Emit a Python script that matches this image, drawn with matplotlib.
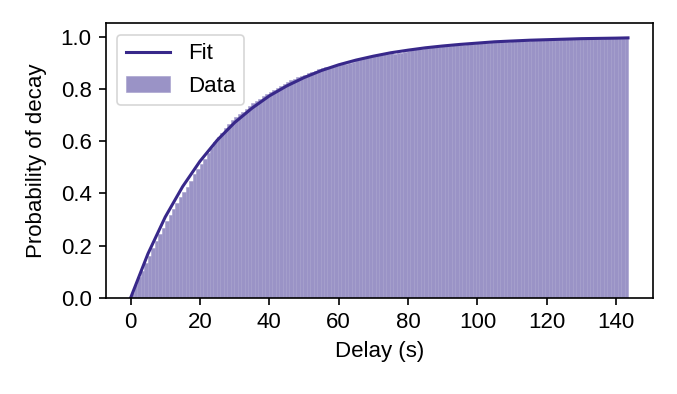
import numpy as np
import matplotlib
matplotlib.use("Agg")
import matplotlib.pyplot as plt

# --- data ---
# cumulative fraction of decays at the right edge of each ~1 s bin
delay_min = 0.0
delay_max = 143.4
cum_fraction = [
    0.018, 0.050, 0.082, 0.103, 0.133, 0.162, 0.191, 0.218, 0.243, 0.268,
    0.293, 0.317, 0.340, 0.363, 0.385, 0.406, 0.426, 0.447, 0.476, 0.495,
    0.513, 0.530, 0.553, 0.574, 0.597, 0.614, 0.632, 0.649, 0.666, 0.679,
    0.691, 0.702, 0.713, 0.724, 0.734, 0.744, 0.754, 0.763, 0.772, 0.781,
    0.789, 0.797, 0.804, 0.812, 0.819, 0.826, 0.833, 0.839, 0.845, 0.850,
    0.854, 0.859, 0.864, 0.870, 0.875, 0.878, 0.882, 0.883, 0.887, 0.891,
    0.894, 0.895, 0.895, 0.898, 0.903, 0.909, 0.914, 0.917, 0.920, 0.923,
    0.926, 0.928, 0.931, 0.933, 0.935, 0.936, 0.935, 0.936, 0.938, 0.942,
    0.946, 0.949, 0.951, 0.952, 0.954, 0.956, 0.957, 0.959, 0.960, 0.961,
    0.963, 0.964, 0.965, 0.966, 0.967, 0.968, 0.969, 0.970, 0.971, 0.972,
    0.974, 0.975, 0.976, 0.977, 0.978, 0.978, 0.979, 0.980, 0.981, 0.981,
    0.982, 0.982, 0.983, 0.983, 0.984, 0.984, 0.985, 0.985, 0.986, 0.986,
    0.987, 0.987, 0.988, 0.988, 0.988, 0.989, 0.989, 0.989, 0.990, 0.990,
    0.990, 0.991, 0.991, 0.991, 0.992, 0.992, 0.992, 0.993, 0.993, 0.993,
    0.994, 0.995, 0.997, 1.000,
]

# fitted curve, sampled every 5 s
fit_t = [0, 5, 10, 15, 20, 25, 30, 35, 40, 45, 50, 55, 60, 65, 70, 75, 80,
         85, 90, 95, 100, 105, 110, 115, 120, 125, 130, 135, 140, 143.4]
fit_p = [0.0, 0.169, 0.310, 0.426, 0.523, 0.604, 0.671, 0.726, 0.773, 0.811,
         0.843, 0.870, 0.892, 0.910, 0.925, 0.938, 0.948, 0.957, 0.964, 0.970,
         0.975, 0.980, 0.983, 0.986, 0.988, 0.990, 0.992, 0.993, 0.994, 0.995]

LINE_COLOR = "#38288a"
BAR_COLOR = "#9a93c6"

plt.rcParams["font.family"] = ["Liberation Sans", "DejaVu Sans"]
plt.rcParams["font.size"] = 8
plt.rcParams["axes.linewidth"] = 0.6
for ax_name in ("xtick", "ytick"):
    plt.rcParams[f"{ax_name}.major.width"] = 0.6
    plt.rcParams[f"{ax_name}.major.size"] = 2.5
    plt.rcParams[f"{ax_name}.major.pad"] = 2.5

fig = plt.figure(figsize=(3.385, 1.97), dpi=200)
ax = fig.add_axes([0.156, 0.2437, 0.8085, 0.6967])

edges = np.linspace(delay_min, delay_max, len(cum_fraction) + 1)
bars = ax.bar(edges[:-1], cum_fraction, width=np.diff(edges), align="edge",
              color=BAR_COLOR, edgecolor="#a39dcb", linewidth=0.2)
fit_line, = ax.plot(fit_t, fit_p, color=LINE_COLOR, lw=1.1)

ax.set_xlim(-7.2, 150.6)
ax.set_ylim(0, 1.05)
ax.set_xticks(np.arange(0, 141, 20))
ax.set_yticks([0.0, 0.2, 0.4, 0.6, 0.8, 1.0])
ax.set_xlabel("Delay (s)", labelpad=3)
ax.set_ylabel("Probability of decay", labelpad=5)

leg = ax.legend([fit_line, bars], ["Fit", "Data"], loc="upper left",
                fancybox=True, framealpha=0.8, edgecolor="#cccccc")
leg.get_frame().set_linewidth(0.6)

fig.savefig("out.png", dpi=200)
